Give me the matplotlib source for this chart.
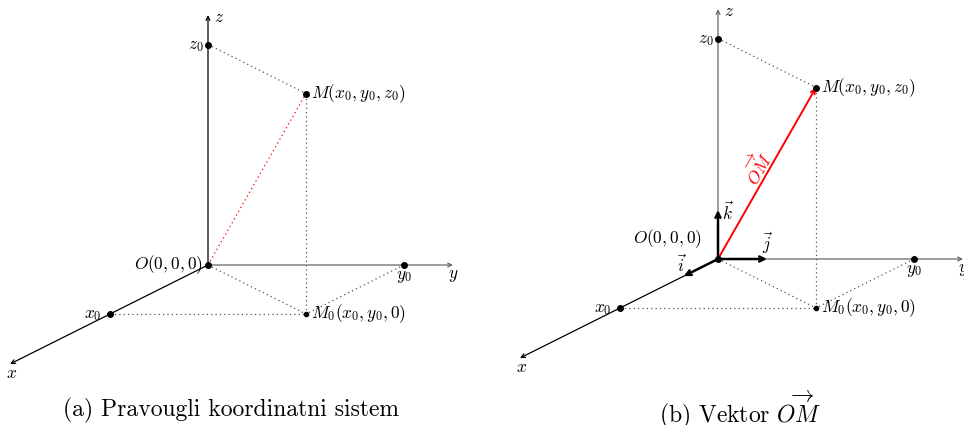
import numpy as np
import matplotlib
matplotlib.use("Agg")
import matplotlib.pyplot as plt

plt.rcParams["mathtext.fontset"] = "cm"

# point coordinates (in axis units)
x0, y0, z0 = 2.0, 4.0, 4.5
axis_len = {"x": 4.04, "y": 5.0, "z": 5.1}
unit_i, unit_j, unit_k = 0.7, 1.0, 1.0
captions = ["(a) Pravougli koordinatni sistem", r"(b) Vektor $\overrightarrow{OM}$"]

PX = 49.0  # pixels per unit


def proj(x, y, z):
    # oblique projection: x goes down-left
    return (y - x, z - 0.5 * x)


def line(ax, a, b, **kw):
    p, q = proj(*a), proj(*b)
    ax.plot([p[0], q[0]], [p[1], q[1]], **kw)


def arrow(ax, a, b, color="black", lw=0.9, ms=7):
    p, q = proj(*a), proj(*b)
    ax.annotate("", xy=q, xytext=p,
                arrowprops=dict(arrowstyle="->", color=color, lw=lw,
                                shrinkA=0, shrinkB=0, mutation_scale=ms))


def dot(ax, pt, s=4):
    p = proj(*pt)
    ax.plot(p[0], p[1], "o", color="black", ms=s, zorder=5)


def label(ax, pt, txt, dx=0, dy=0, size=12.5, **kw):
    # dx, dy in pixels, dy positive = down
    p = proj(*pt)
    ax.text(p[0] + dx / PX, p[1] - dy / PX, txt, fontsize=size, **kw)


fig = plt.figure(figsize=(9.64, 4.25), dpi=100)

# panel origins in pixels (left px inside panel, top px)
origins = [(208, 265), (236, 259)]
W, H = 482, 425

O = (0, 0, 0)
M = (x0, y0, z0)
M0 = (x0, y0, 0)
X0 = (x0, 0, 0)
Y0 = (0, y0, 0)
Z0 = (0, 0, z0)

for k, (ox, oy) in enumerate(origins):
    ax = fig.add_axes([k * 0.5, 0, 0.5, 1])
    ax.set_xlim(-ox / PX, (W - ox) / PX)
    ax.set_ylim(-(H - oy) / PX, oy / PX)
    ax.axis("off")

    # axes
    zc = "black" if k == 0 else "#666666"
    arrow(ax, O, (axis_len["x"], 0, 0), color="black")
    arrow(ax, O, (0, axis_len["y"], 0), color="#666666")
    arrow(ax, O, (0, 0, axis_len["z"]), color=zc)

    # dotted construction lines
    dk = dict(color="#555555", lw=0.9, ls=(0, (1, 2.5)))
    line(ax, Z0, M, **dk)
    line(ax, M, M0, **dk)
    line(ax, O, M0, **dk)
    line(ax, Y0, M0, **dk)
    line(ax, X0, M0, **dk)

    if k == 0:
        line(ax, O, M, color="red", lw=0.9, ls=(0, (1, 2.5)))
    else:
        arrow(ax, O, M, color="red", lw=1.4, ms=8)
        arrow(ax, O, (unit_i, 0, 0), lw=1.8, ms=9)
        arrow(ax, O, (0, unit_j, 0), lw=1.8, ms=9)
        arrow(ax, O, (0, 0, unit_k), lw=1.8, ms=9)
        label(ax, (0, 0, unit_k), r"$\vec{k}$", dx=4, dy=3, ha="left", va="center")
        label(ax, (0, unit_j, 0), r"$\vec{j}$", dx=0, dy=-16, ha="center", va="center")
        label(ax, (unit_i, 0, 0), r"$\vec{i}$", dx=-2, dy=-11, ha="center", va="center")
        p, q = proj(*O), proj(*M)
        ang = np.degrees(np.arctan2(q[1] - p[1], q[0] - p[0]))
        mid = ((p[0] + q[0]) / 2 - 10 / PX, (p[1] + q[1]) / 2 + 6 / PX)
        ax.text(mid[0], mid[1], r"$\overrightarrow{OM}$", color="red", fontsize=12.5,
                rotation=ang, rotation_mode="anchor", ha="center", va="center")

    for pt in [Z0, M, X0, Y0, O]:
        dot(ax, pt)
    dot(ax, M0, s=3)

    label(ax, (0, 0, axis_len["z"]), r"$z$", dx=6, dy=2, ha="left", va="center")
    label(ax, Z0, r"$z_0$", dx=-4, ha="right", va="center")
    label(ax, M, r"$M(x_0,y_0,z_0)$", dx=5, ha="left", va="center")
    label(ax, M0, r"$M_0(x_0,y_0,0)$", dx=5, ha="left", va="center")
    label(ax, X0, r"$x_0$", dx=-8, ha="right", va="center")
    label(ax, Y0, r"$y_0$", dy=11, ha="center", va="center")
    label(ax, (0, axis_len["y"], 0), r"$y$", dy=10, ha="center", va="center")
    label(ax, (axis_len["x"], 0, 0), r"$x$", dx=2, dy=9, ha="center", va="center")
    if k == 0:
        label(ax, O, r"$O(0,0,0)$", dx=-5, ha="right", va="center")
    else:
        label(ax, O, r"$O(0,0,0)$", dx=-16, dy=-20, ha="right", va="center")

    fig.text(0.24 + k * 0.528, 1 - 410 / H, captions[k], fontsize=17,
             family="cmr10", ha="center", va="center")

fig.savefig("out.png", dpi=100)
